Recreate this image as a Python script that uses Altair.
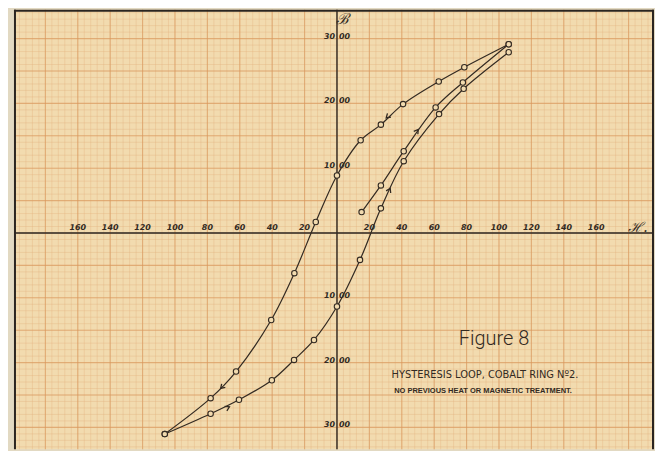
import altair as alt
import pandas as pd

# ---- data ----
# initial magnetisation curve
init_H = [15.2, 27.1, 41.2, 60.9, 77.7, 106.0]
init_B = [323, 734, 1262, 1938, 2323, 2912]
# descending branch
desc_H = [106.0, 78.6, 62.8, 40.8, 27.1, 14.6, 0.0, -13.1, -26.3, -40.6, -62.3, -78.0, -106.3]
desc_B = [2912, 2558, 2338, 1989, 1672, 1431, 888, 169, -620, -1343, -2138, -2549, -3103]
# ascending branch
asc_H = [-106.3, -78.0, -60.5, -40.2, -26.5, -14.2, 0.0, 14.2, 27.1, 41.2, 63.0, 78.2, 106.0]
asc_B = [-3103, -2790, -2574, -2272, -1959, -1651, -1134, -415, 380, 1108, 1835, 2226, 2789]
# direction arrows on the curves (position and heading in degrees)
arrow_H = [30.8, -71.4, -66.9, 32.6, 49.8]
arrow_B = [1785, -2389, -2688, 677, 1585]
arrow_angle = [137, 134, 334, 296, 306]

x_tick_values = [-160, -140, -120, -100, -80, -60, -40, -20, 20, 40, 60, 80, 100, 120, 140, 160]
x_tick_labels = ["160", "140", "120", "100", "80", "60", "40", "20",
                 "20", "40", "60", "80", "100", "120", "140", "160"]
y_tick_values = [3000, 2000, 1000, -1000, -2000, -3000]
y_tick_labels = ["3000", "2000", "1000", "1000", "2000", "3000"]

title_text = "Figure 8"
subtitle_text = "HYSTERESIS LOOP, COBALT RING Nº2."
note_text = "NO PREVIOUS HEAT OR MAGNETIC TREATMENT."
b_symbol = "ℬ"
h_symbol = "ℋ."

# ---- layout / style ----
PAPER = "#f2dbaf"
INK = "#332a22"
W, H = 642, 441

xs = alt.Scale(domain=[-199.38, 195.69], nice=False, zero=False)
ys = alt.Scale(domain=[-3338.46, 3446.15], nice=False, zero=False)

curve_rows = []
for name, hs, bs in [("init", init_H, init_B), ("desc", desc_H, desc_B), ("asc", asc_H, asc_B)]:
    for i, (h, b) in enumerate(zip(hs, bs)):
        curve_rows.append({"curve": name, "order": i, "H": h, "B": b})
curves = pd.DataFrame(curve_rows)

arrows = pd.DataFrame({"H": arrow_H, "B": arrow_B, "angle": arrow_angle})

# graph-paper grid positions
gx_minor = pd.DataFrame({"v": list(range(-196, 196, 4))})
gy_minor = pd.DataFrame({"v": list(range(-3300, 3447, 100))})
gx_major = pd.DataFrame({"v": list(range(-180, 196, 20))})
gy_major = pd.DataFrame({"v": list(range(-3000, 3447, 500))})

X = lambda f: alt.X(f, scale=xs, axis=None)
Y = lambda f: alt.Y(f, scale=ys, axis=None)

MINOR = dict(color="#e3b07e", strokeWidth=0.8, opacity=0.45)
MAJOR = dict(color="#d9965a", strokeWidth=1.1, opacity=0.6)
grid_minor_x = alt.Chart(gx_minor).mark_rule(**MINOR).encode(x=X("v:Q"))
grid_minor_y = alt.Chart(gy_minor).mark_rule(**MINOR).encode(y=Y("v:Q"))
grid_major_x = alt.Chart(gx_major).mark_rule(**MAJOR).encode(x=X("v:Q"))
grid_major_y = alt.Chart(gy_major).mark_rule(**MAJOR).encode(y=Y("v:Q"))

axis_df = pd.DataFrame({"v": [0]})
axis_x = alt.Chart(axis_df).mark_rule(color="#2e2a26", strokeWidth=1.4).encode(y=Y("v:Q"))
axis_y = alt.Chart(axis_df).mark_rule(color="#2e2a26", strokeWidth=1.4).encode(x=X("v:Q"))

frame_left = alt.Chart(axis_df).mark_rule(color="#2a2420", strokeWidth=2).encode(
    x=alt.value(1), y=alt.value(0), y2=alt.value(H))
frame_top = alt.Chart(axis_df).mark_rule(color="#2a2420", strokeWidth=2).encode(
    x=alt.value(0), x2=alt.value(W), y=alt.value(1))
frame_right = alt.Chart(axis_df).mark_rule(color="#2a2420", strokeWidth=2).encode(
    x=alt.value(W - 1), y=alt.value(0), y2=alt.value(H))

lines = alt.Chart(curves).mark_line(color=INK, strokeWidth=1.2, interpolate="catmull-rom").encode(
    x=X("H:Q"), y=Y("B:Q"), detail="curve:N", order="order:Q")
points = alt.Chart(curves).mark_point(shape="circle", filled=True, fill=PAPER, stroke=INK,
                                      strokeWidth=1.1, size=30, opacity=1).encode(
    x=X("H:Q"), y=Y("B:Q"))
arrow_marks = alt.Chart(arrows).mark_point(shape="M-1,-0.8L0.3,0L-1,0.8", filled=False, stroke=INK,
                                           strokeWidth=1.3, size=40, opacity=1).encode(
    x=X("H:Q"), y=Y("B:Q"), angle=alt.Angle("angle:Q", scale=None))

xt = pd.DataFrame({"v": x_tick_values, "t": x_tick_labels})
x_labels = alt.Chart(xt).mark_text(font="DejaVu Sans", fontStyle="italic", fontWeight="bold",
                                   fontSize=8, color=INK, baseline="bottom", dy=-1).encode(
    x=X("v:Q"), y=alt.value(224), text="t:N")

yt = pd.DataFrame({"v": y_tick_values, "l": [s[:2] for s in y_tick_labels], "r": [s[2:] for s in y_tick_labels]})
YL = dict(font="DejaVu Sans", fontStyle="italic", fontWeight="bold", fontSize=8, color=INK,
          baseline="middle", dy=-2)
y_labels_l = alt.Chart(yt).mark_text(align="right", dx=-2, **YL).encode(
    x=alt.value(324), y=Y("v:Q"), text="l:N")
y_labels_r = alt.Chart(yt).mark_text(align="left", dx=2, **YL).encode(
    x=alt.value(324), y=Y("v:Q"), text="r:N")

def label(txt, x, y, **kw):
    return alt.Chart(pd.DataFrame({"t": [txt]})).mark_text(color=INK, **kw).encode(
        x=alt.value(x), y=alt.value(y), text="t:N")

b_label = label(b_symbol, 330, 9, font="DejaVu Serif", fontSize=15, fontStyle="italic")
h_label = label(h_symbol, 626, 219, font="DejaVu Serif", fontSize=14, fontStyle="italic")
fig_label = label(title_text, 481.5, 330, font="Roboto", fontWeight=300, fontSize=20)
sub_label = label(subtitle_text, 472.5, 366, font="DejaVu Sans Condensed", fontSize=11)
note_label = label(note_text, 470.5, 382.5, font="Liberation Sans", fontWeight="bold", fontSize=7.5)

chart = alt.layer(
    grid_minor_x, grid_minor_y, grid_major_x, grid_major_y,
    axis_x, axis_y, frame_left, frame_top, frame_right,
    lines, points, arrow_marks,
    x_labels, y_labels_l, y_labels_r,
    b_label, h_label, fig_label, sub_label, note_label,
).properties(
    width=W, height=H,
    padding={"left": 5, "top": 0, "right": 0, "bottom": 0},
    background="#e2d9c2",
).configure_view(stroke=None, fill=PAPER)

chart.save("out.html", embed_options={"renderer": "svg", "actions": False})
